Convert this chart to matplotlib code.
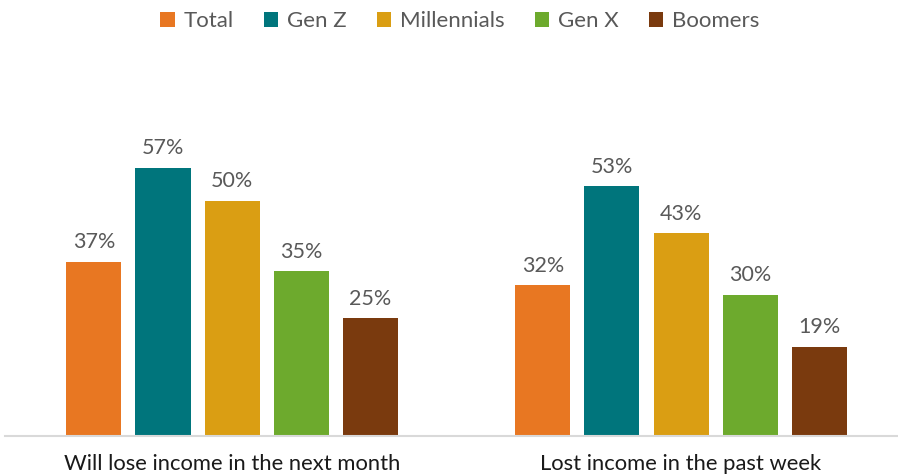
import numpy as np
import matplotlib
matplotlib.use("Agg")
import matplotlib.pyplot as plt

plt.rcParams['font.family'] = ['Lato', 'DejaVu Sans']

categories = ["Will lose income in the next month", "Lost income in the past week"]
series = ["Total", "Gen Z", "Millennials", "Gen X", "Boomers"]
values = {
    "Total": [37, 32],
    "Gen Z": [57, 53],
    "Millennials": [50, 43],
    "Gen X": [35, 30],
    "Boomers": [25, 19],
}
colors = ["#E87722", "#00757C", "#DA9E13", "#6DAA2D", "#7A3A0E"]

fig = plt.figure(figsize=(8.98, 4.76), dpi=100)
# axes: bottom at 436px from top, top at 60px
ax = fig.add_axes([5 / 898, 40 / 476, 893 / 898, 376 / 476])

x = np.arange(len(categories))
step = 0.1537
width = 0.1225
for i, name in enumerate(series):
    pos = x + (i - 2) * step
    bars = ax.bar(pos, values[name], width, color=colors[i], label=name, zorder=2)
    for b, v in zip(bars, values[name]):
        ax.text(b.get_x() + b.get_width() / 2, v + 2.0, f"{v}%",
                ha="center", va="bottom", fontsize=15.5, color="#595959")

ax.set_xlim(-0.5056, 1.4833)
ax.set_ylim(0, 376 / 4.71)
ax.set_xticks(x)
ax.set_xticklabels(categories, fontsize=15.8, color="#1a1a1a")
ax.tick_params(axis="x", length=0, pad=13)
ax.set_yticks([])
for s in ["top", "right", "left"]:
    ax.spines[s].set_visible(False)
ax.spines["bottom"].set_color("#D9D9D9")
ax.spines["bottom"].set_linewidth(1.5)

fig.legend(loc="center", bbox_to_anchor=(460 / 898, 1 - 21 / 476), ncol=5,
           frameon=False, fontsize=16, handlelength=0.65, handleheight=0.65,
           handletextpad=0.4, columnspacing=1.35, labelcolor="#595959")

fig.savefig("out.png", dpi=100)
